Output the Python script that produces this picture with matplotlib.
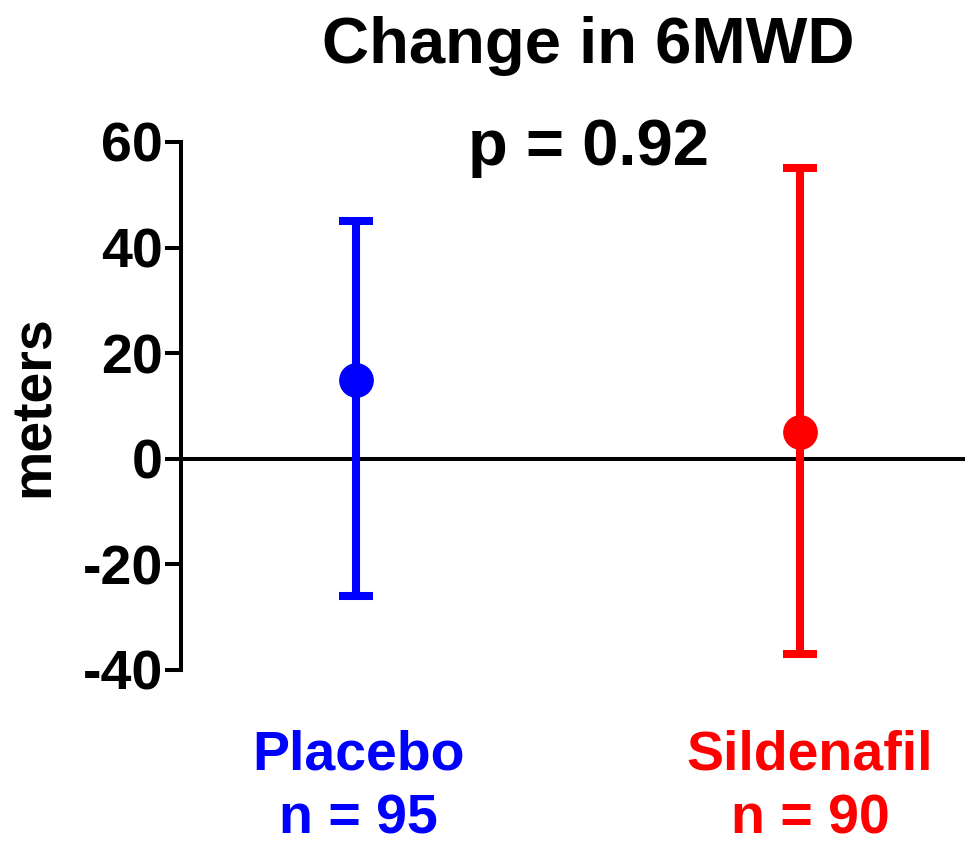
import matplotlib
matplotlib.use('Agg')
import matplotlib.pyplot as plt

plt.rcParams['font.family'] = ['Liberation Sans', 'DejaVu Sans']
plt.rcParams['font.weight'] = 'bold'

# data
groups = ['Placebo', 'Sildenafil']
n_values = [95, 90]
means = [15, 5]
upper = [45, 55]
lower = [-26, -37]
colors = ['#0000ff', '#ff0000']
yticks = [-40, -20, 0, 20, 40, 60]
p_value = 0.92

W, H = 965, 843
fig = plt.figure(figsize=(W / 100, H / 100), dpi=100)
ax = fig.add_axes([181 / W, 173 / H, 784 / W, 528 / H])

positions = [1, 2]
for x, m, hi, lo, c in zip(positions, means, upper, lower, colors):
    ax.errorbar([x], [m], yerr=[[m - lo], [hi - m]], fmt='o', color=c,
                ecolor=c, elinewidth=5.8, capsize=12, capthick=5.8,
                markersize=24, zorder=3)

# zero reference line
ax.axhline(0, color='black', lw=2.9, zorder=1)

ax.set_xlim(0.606, 2.372)
ax.set_ylim(-40, 60)
ax.set_yticks(yticks)
ax.set_yticklabels([str(v) for v in yticks], fontsize=40, fontweight='bold')
ax.set_xticks([])

for s in ['top', 'right', 'bottom']:
    ax.spines[s].set_visible(False)
ax.spines['left'].set_linewidth(2.9)
ax.spines['left'].set_bounds(-40, 60)
ax.tick_params(axis='y', length=11.5, width=2.9, pad=1.5)

ax.set_ylabel('meters', fontsize=40, fontweight='bold', labelpad=16)

fig.text(588 / W, 1 - 63 / H, 'Change in 6MWD', ha='center', va='baseline',
         fontsize=47, fontweight='bold')
fig.text(588 / W, 1 - 165 / H, f'p = {p_value}', ha='center', va='baseline',
         fontsize=47, fontweight='bold')

label_x = [358, 810]
for lx, g, n, c in zip(label_x, groups, n_values, colors):
    fig.text(lx / W, 1 - 769 / H, g, ha='center', va='baseline',
             fontsize=40, fontweight='bold', color=c)
    fig.text(lx / W, 1 - 834 / H, f'n = {n}', ha='center', va='baseline',
             fontsize=40, fontweight='bold', color=c)

fig.savefig('out.png', dpi=100)
